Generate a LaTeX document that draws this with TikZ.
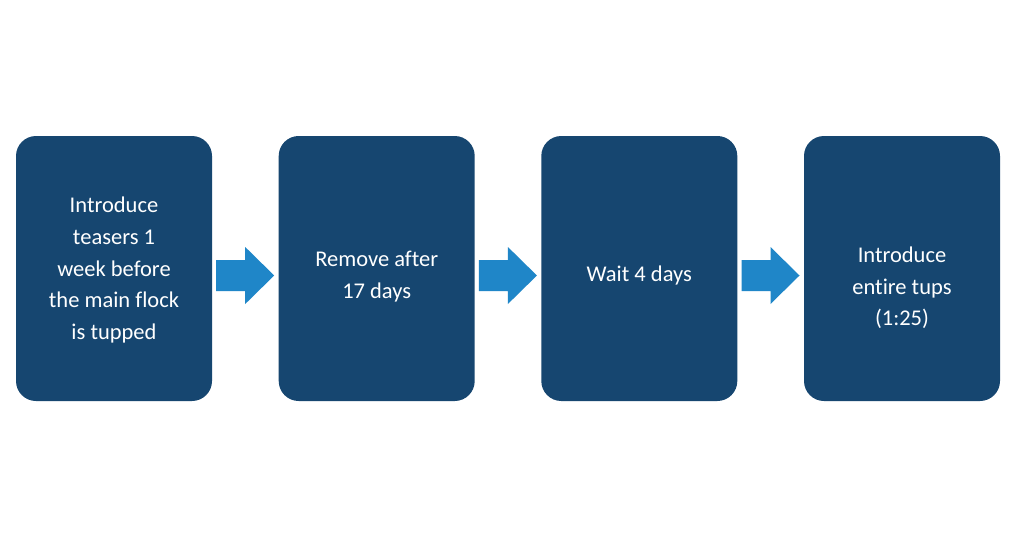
\documentclass[tikz,border=0pt]{standalone}
\usepackage{fontspec}
\setmainfont{Carlito}[Ligatures=NoCommon]
\definecolor{boxc}{RGB}{22,70,112}
\definecolor{arrowc}{RGB}{31,134,200}
\begin{document}
\begin{tikzpicture}[x=1pt,y=-1pt,
  stepbox/.style={fill=boxc,rounded corners=20pt,minimum width=196pt,minimum height=265pt,inner sep=0pt},
  steptext/.style={text=white,align=center,inner sep=0pt,font=\fontsize{22.5}{31.7}\selectfont},
  blockarrow/.style={fill=arrowc}]
\useasboundingbox (0,0) rectangle (1024,538);
\fill[white] (0,0) rectangle (1024,538);
\node[stepbox] (b1) at (114,268.5) {};
\node[stepbox] (b2) at (376.7,268.5) {};
\node[stepbox] (b3) at (639.3,268.5) {};
\node[stepbox] (b4) at (902,268.5) {};
\node[steptext] (t1) at (114,270) {Introduce\\teasers 1\\week before\\the main flock\\is tupped};
\node[steptext] (t2) at (376.7,276.5) {Remove after\\17 days};
\node[steptext] (t3) at (639.3,275.5) {Wait 4 days};
\node[steptext] (t4) at (902,288) {Introduce\\entire tups\\(1:25)};
\foreach \a in {b1,b2,b3}{
  \fill[blockarrow] (\a.east) ++(4,-8.5) -- ++(29,0) -- ++(0,-13) -- ++(29,28.5) -- ++(-29,28.5) -- ++(0,-13) -- ++(-29,0) -- cycle;
}
\end{tikzpicture}
\end{document}
